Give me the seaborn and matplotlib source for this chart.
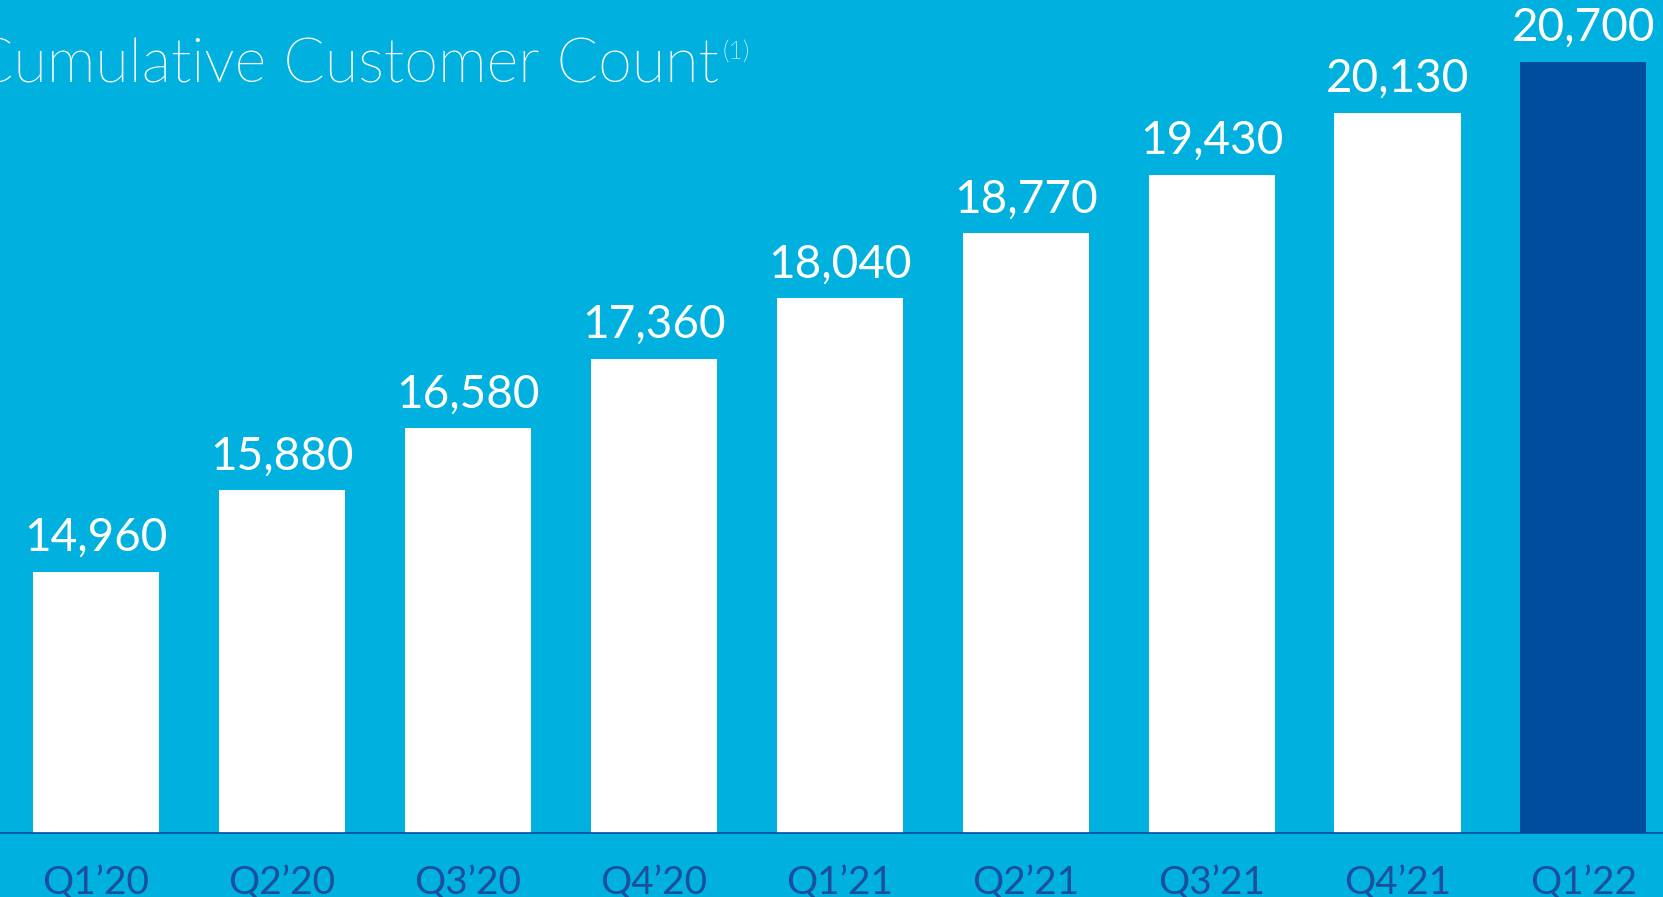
import matplotlib
matplotlib.use("Agg")
import matplotlib.pyplot as plt
from matplotlib import font_manager as fm
import seaborn as sns

# Chart data
quarters = ["Q1’20", "Q2’20", "Q3’20", "Q4’20", "Q1’21", "Q2’21", "Q3’21", "Q4’21", "Q1’22"]
customers = [14960, 15880, 16580, 17360, 18040, 18770, 19430, 20130, 20700]
value_labels = ["14,960", "15,880", "16,580", "17,360", "18,040", "18,770", "19,430", "20,130", "20,700"]
title_text = "Cumulative Customer Count"
footnote_mark = "(1)"

# Colours
bg = "#00B1E0"
white = "#FFFFFF"
dark_blue = "#004DA0"
label_blue = "#1A4F9E"
bar_colors = [white] * 8 + [dark_blue]

sns.set_style("white")
plt.rcParams["font.family"] = ["Lato", "DejaVu Sans"]

# look for the Lato Light file directly (weight="light" picks a hairline cut)
light_file = None
for f in fm.fontManager.ttflist:
    base = f.fname.split("/")[-1].lower()
    if f.name == "Lato" and "light" in base and "italic" not in base:
        light_file = f.fname
        break
light = fm.FontProperties(fname=light_file) if light_file else fm.FontProperties(family="Lato")

fig = plt.figure(figsize=(16.63, 8.97), dpi=100)
fig.patch.set_facecolor(bg)
ax = fig.add_axes([0, 0.0713, 1, 0.9287])
ax.set_facecolor(bg)

sns.barplot(x=quarters, y=customers, hue=quarters, palette=bar_colors,
            width=0.678, saturation=1, legend=False, linewidth=0,
            edgecolor="none", ax=ax)

ax.set_ylim(12022, 21397)
ax.set_xlim(-0.516, 8.428)

# value labels above bars
for i, (v, lab) in enumerate(zip(customers, value_labels)):
    ax.annotate(lab, (i, v), xytext=(0, 15), textcoords="offset points",
                ha="center", va="baseline", color=white, fontsize=33)

# axis styling
for side in ["top", "left", "right"]:
    ax.spines[side].set_visible(False)
ax.spines["bottom"].set_color(dark_blue)
ax.spines["bottom"].set_linewidth(1.2)
ax.set_yticks([])
ax.set_xlabel("")
ax.set_ylabel("")
ax.tick_params(axis="x", length=0, pad=23.5, labelsize=28, labelcolor=label_blue)

# title with superscript footnote
t = fig.text(-0.017, 0.9075, title_text, color=white, fontproperties=light,
             fontsize=44, ha="left", va="baseline")
fig.canvas.draw()
bb = t.get_window_extent()
fig.text((bb.x1 + 4) / fig.bbox.width, 0.935, footnote_mark, color=white,
         fontproperties=light, fontsize=18, ha="left", va="baseline")

fig.savefig("out.png", dpi=100, facecolor=bg)
